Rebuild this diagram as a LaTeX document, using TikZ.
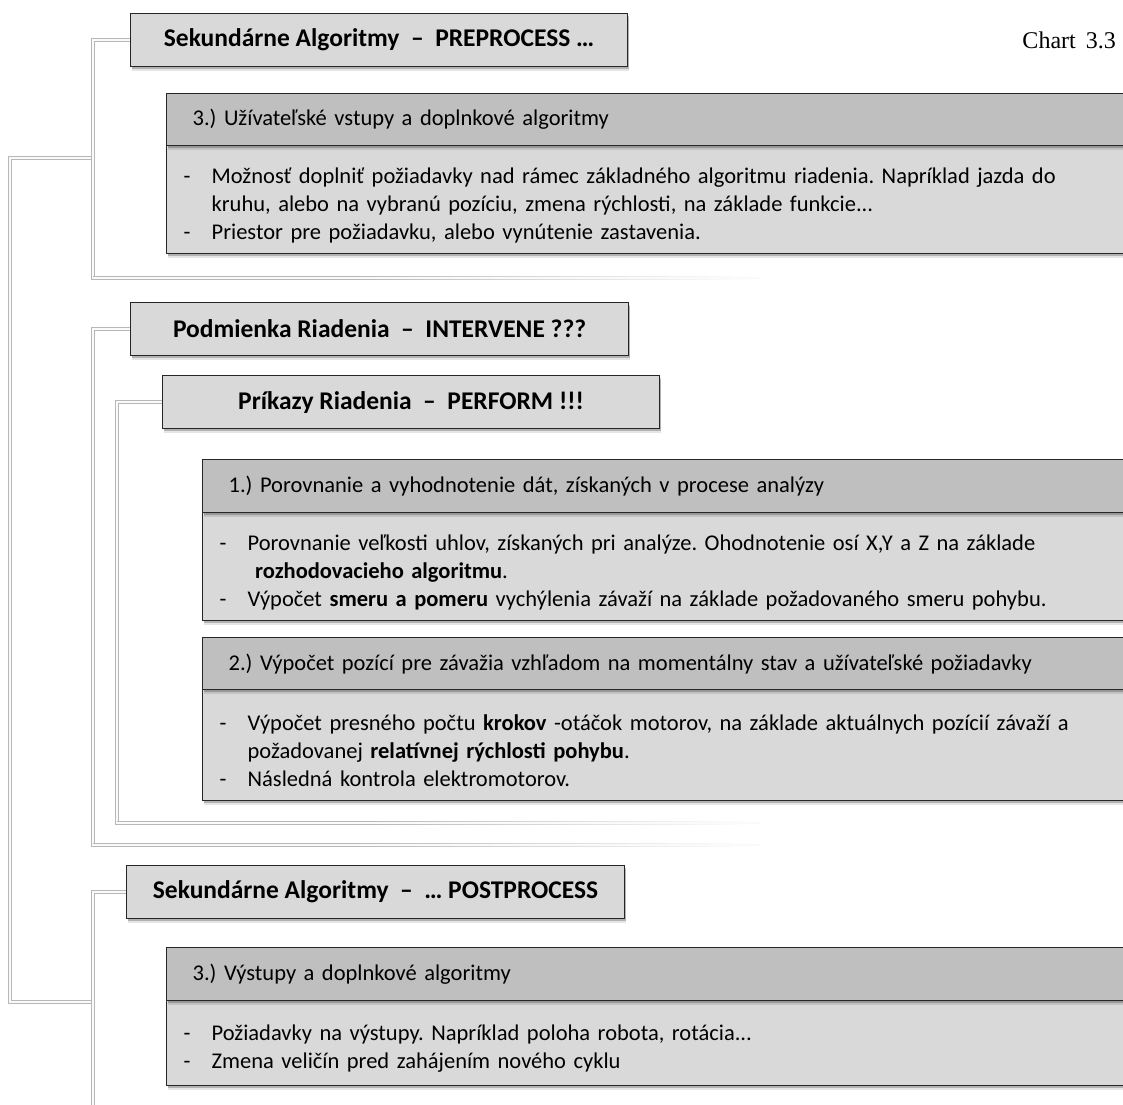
\documentclass[tikz,border=0pt]{standalone}
\usepackage{fontspec}
\setmainfont{Carlito}
\newfontfamily\chartfont{Liberation Serif}
\usetikzlibrary{shadows,calc,backgrounds}
\frenchspacing

% bullet dash with hanging indent
\newcommand\bulletdash{\makebox[28pt][l]{-}}
\newcommand\hangline{\hspace*{28pt}}
\newcommand\lowstrut{\rule{0pt}{27pt}}

\tikzset{
  link/.style={draw=black!28, line width=0.9pt, double=black!2, double distance=2.3pt, line join=miter},
  boxshadow/.style={
    drop shadow={shadow xshift=1.5pt, shadow yshift=-4pt, opacity=0.10, fill=black},
    drop shadow={shadow xshift=1pt, shadow yshift=-2.5pt, opacity=0.22, fill=black}},
  titlebox/.style={draw=black!85, line width=1.1pt, fill=black!15, anchor=north west,
    inner sep=0pt, minimum height=53, font=\fontsize{25.5}{30}\selectfont\bfseries, boxshadow},
  headbox/.style={draw=black!85, line width=1.3pt, fill=black!25, anchor=north west,
    inner xsep=26pt, inner ysep=0pt, text width=1000pt, align=left,
    font=\fontsize{22.5}{28}\selectfont, boxshadow},
  bodybox/.style={draw=black!85, line width=1.3pt, fill=black!15, anchor=north west,
    inner xsep=17pt, inner ysep=0pt, text width=1000pt, align=left,
    font=\fontsize{22.5}{28}\selectfont, boxshadow},
}

% horizontal tail of a bracket, fading out to the right
\newcommand\fadetail[2]{%
  \draw[link] (#1) -- ($(#1)!0.4!(#2)$);
  \foreach \i in {0,...,29}{%
    \pgfmathsetmacro\tone{28*(1-(\i+1)/30)}%
    \pgfmathsetmacro\ta{0.4+0.6*\i/30}%
    \pgfmathsetmacro\tb{0.4+0.6*(\i+1)/30+0.002}%
    \draw[link, draw=black!\tone] ($(#1)!\ta!(#2)$) -- ($(#1)!\tb!(#2)$);
  }%
}

\begin{document}
\begin{tikzpicture}[x=1pt, y=-1pt]
\useasboundingbox (0,0) rectangle (1123,1104);
\clip (0,0) rectangle (1123,1104);

% ---- title boxes ----
\node[titlebox, minimum width=497] (pre) at (130,13) {Sekundárne Algoritmy\ \ –\ \ PREPROCESS …};
\node[titlebox, minimum width=498] (pod) at (130,302) {Podmienka Riadenia\ \ –\ \ INTERVENE ???};
\node[titlebox, minimum width=497] (pri) at (162,375) {Príkazy Riadenia\ \ –\ \ PERFORM !!!};
\node[titlebox, minimum width=498] (post) at (126,865) {Sekundárne Algoritmy\ \ –\ \ … POSTPROCESS};

\node[anchor=base east, inner sep=0pt, font=\chartfont\fontsize{24}{28}\selectfont] (chart) at (1116,48) {Chart~\,3.3};

% ---- section 3.) inputs ----
\node[bodybox, minimum height=108] (inB) at (166,145) {%
\lowstrut\bulletdash Možnosť doplniť požiadavky nad rámec základného algoritmu riadenia. Napríklad jazda do\\
\hangline kruhu, alebo na vybranú pozíciu, zmena rýchlosti, na základe funkcie...\\
\bulletdash Priestor pre požiadavku, alebo vynútenie zastavenia.};
\node[headbox, minimum height=52] (inH) at (166,93) {3.) Užívateľské vstupy a doplnkové algoritmy};

% ---- section 1.) ----
\node[bodybox, minimum height=108] (oneB) at (202,512) {%
\lowstrut\bulletdash Porovnanie veľkosti uhlov, získaných pri analýze. Ohodnotenie osí X,Y a Z na základe\\
\hangline\ \textbf{rozhodovacieho algoritmu}.\\
\bulletdash Výpočet \textbf{smeru a pomeru} vychýlenia závaží na základe požadovaného smeru pohybu.};
\node[headbox, minimum height=53] (oneH) at (202,459) {1.) Porovnanie a vyhodnotenie dát, získaných v procese analýzy};

% ---- section 2.) ----
\node[bodybox, minimum height=111] (twoB) at (202,689) {%
\lowstrut\bulletdash Výpočet presného počtu \textbf{krokov} -otáčok motorov, na základe aktuálnych pozícií závaží a\\
\hangline požadovanej \textbf{relatívnej rýchlosti pohybu}.\\
\bulletdash Následná kontrola elektromotorov.};
\node[headbox, minimum height=52] (twoH) at (202,637) {2.) Výpočet pozící pre závažia vzhľadom na momentálny stav a užívateľské požiadavky};

% ---- section 3.) outputs ----
\node[bodybox, minimum height=85] (outB) at (166,1000) {%
\lowstrut\bulletdash Požiadavky na výstupy. Napríklad poloha robota, rotácia...\\
\bulletdash Zmena veličín pred zahájením nového cyklu};
\node[headbox, minimum height=53] (outH) at (166,947) {3.) Výstupy a doplnkové algoritmy};

% ---- brackets, behind the boxes ----
\coordinate (preCorner) at (93,278);
\coordinate (preEnd) at (760,278);
\coordinate (podCorner) at (93,845);
\coordinate (podEnd) at (760,845);
\coordinate (priCorner) at (117,823);
\coordinate (priEnd) at (760,823);
\coordinate (postFoot) at (93,1110);
\coordinate (outTop) at (93,158);
\coordinate (outBot) at (93,1002);

\begin{scope}[on background layer]
  \fill[white] (0,0) rectangle (1123,1104);
  % outer bracket joining the first and the last section
  \draw[link] (outTop) -- (10,158) -- (10,1002) -- (outBot);
  % section brackets
  \draw[link] (pre.west) -| (preCorner) -- ++(30,0);
  \fadetail{preCorner}{preEnd}
  \draw[link] (pod.west) -| (podCorner) -- ++(30,0);
  \fadetail{podCorner}{podEnd}
  \draw[link] (pri.west) -| (priCorner) -- ++(30,0);
  \fadetail{priCorner}{priEnd}
  \draw[link] (post.west) -| (postFoot);
\end{scope}

\end{tikzpicture}
\end{document}
